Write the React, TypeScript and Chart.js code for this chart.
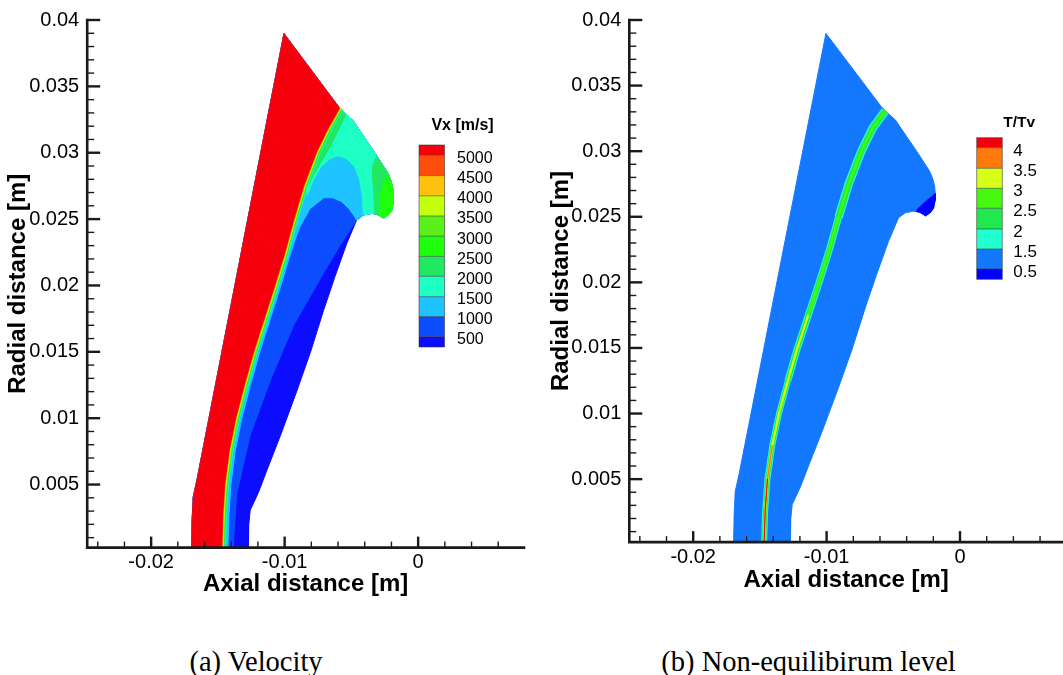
import React, { useEffect, useRef } from 'react';
import { Chart, registerables } from 'chart.js';

Chart.register(...registerables);

type Pt = [number, number];

// ---------------- axes ----------------
const xMin = -0.02479;
const xMaxA = 0.00793;
const xMaxB = 0.00772;
const yMinA = 0.00025;
const yMinB = 0.0002;
const yMax = 0.04;
const xMajorTicks = [-0.02, -0.01, 0];
const xTickLabels = ['-0.02', '-0.01', '0'];
const xMinorTicks = [-0.024, -0.022, -0.018, -0.016, -0.014, -0.012, -0.008, -0.006, -0.004, -0.002, 0.002, 0.004, 0.006];
const yMajorTicks = [0.005, 0.01, 0.015, 0.02, 0.025, 0.03, 0.035, 0.04];
const yTickLabels = ['0.005', '0.01', '0.015', '0.02', '0.025', '0.03', '0.035', '0.04'];
const yMinorTicks = [0.001, 0.002, 0.003, 0.004, 0.006, 0.007, 0.008, 0.009, 0.011, 0.012, 0.013, 0.014, 0.016, 0.017, 0.018, 0.019, 0.021, 0.022, 0.023, 0.024, 0.026, 0.027, 0.028, 0.029, 0.031, 0.032, 0.033, 0.034, 0.036, 0.037, 0.038, 0.039];

// ---------------- domain boundary (x, y in metres) ----------------
const inflowEdge: Pt[] = [[-0.01697, 0.00025], [-0.01693, 0.00232], [-0.01685, 0.00405], [-0.01657, 0.00533], [-0.01005, 0.03898]];
const upperEdge: Pt[] = [[-0.01005, 0.03898], [-0.0059, 0.03339], [-0.00541, 0.03289], [-0.00486, 0.0324], [-0.00436, 0.03165], [-0.00386, 0.0309], [-0.00335, 0.03015], [-0.0031, 0.02977], [-0.00286, 0.02939], [-0.00252, 0.02886], [-0.00224, 0.02839], [-0.00204, 0.02789], [-0.00191, 0.02738], [-0.00185, 0.02676], [-0.00187, 0.02623], [-0.00199, 0.02563], [-0.00226, 0.02529], [-0.00258, 0.02507]];
const lipEdge: Pt[] = [[-0.00258, 0.02507], [-0.00286, 0.02524], [-0.00297, 0.02531], [-0.00327, 0.02539], [-0.00347, 0.02543], [-0.0041, 0.02531], [-0.00461, 0.02492]];
const outflowEdge: Pt[] = [[-0.00461, 0.02492], [-0.00536, 0.02313], [-0.00625, 0.02061], [-0.00709, 0.01811], [-0.00807, 0.01496], [-0.00915, 0.01187], [-0.01031, 0.00871], [-0.01133, 0.00608], [-0.01196, 0.00441], [-0.01258, 0.00307], [-0.01269, 0.00195], [-0.01271, 0.00025]];

// ---------------- velocity contours ----------------
const shockFront: Pt[] = [[-0.01473, 0.00025], [-0.01466, 0.0027], [-0.01451, 0.00503], [-0.01417, 0.00759], [-0.01369, 0.01], [-0.01305, 0.01248], [-0.01234, 0.01503], [-0.01155, 0.01751], [-0.01076, 0.02], [-0.01001, 0.02247], [-0.00934, 0.02495], [-0.00859, 0.02751], [-0.00766, 0.02999], [-0.00683, 0.03172], [-0.0059, 0.03339]];
const contour1000: Pt[] = [[-0.01385, 0.00025], [-0.0136, 0.00426], [-0.01258, 0.00871], [-0.01106, 0.01288], [-0.0093, 0.01705], [-0.00727, 0.02061], [-0.00586, 0.023], [-0.00461, 0.02492]];
const contour1500: Pt[] = [[-0.01425, 0.00025], [-0.01417, 0.0027], [-0.01402, 0.00503], [-0.01369, 0.00759], [-0.0132, 0.01], [-0.01256, 0.01248], [-0.01185, 0.01503], [-0.01106, 0.01751], [-0.01028, 0.02], [-0.0096, 0.02225], [-0.00893, 0.02428], [-0.0081, 0.02578], [-0.00706, 0.02661], [-0.00639, 0.02661], [-0.00571, 0.02631], [-0.00519, 0.02578], [-0.00481, 0.02526], [-0.00461, 0.02492]];
const contour2000: Pt[] = [[-0.00833, 0.02676], [-0.00788, 0.02789], [-0.00728, 0.02894], [-0.00661, 0.02954], [-0.00601, 0.02977], [-0.00534, 0.02954], [-0.00474, 0.02894], [-0.00436, 0.02789], [-0.00417, 0.02661], [-0.0041, 0.02531]];
const contour2500Tip: Pt[] = [[-0.0031, 0.02977], [-0.00339, 0.02902], [-0.00339, 0.02789], [-0.00331, 0.02676], [-0.00327, 0.02539]];
const contour3000Tip: Pt[] = [[-0.00224, 0.02839], [-0.00264, 0.02759], [-0.00286, 0.02661], [-0.00286, 0.02524]];
const contour2500Wedge: Pt[] = [[-0.00541, 0.03289], [-0.00601, 0.03165], [-0.00676, 0.03014], [-0.00758, 0.02879], [-0.00818, 0.02766]];

// ---------------- T/Tv contours ----------------
const bandCentre: Pt[] = [[-0.01468, 0.00025], [-0.0146, 0.0027], [-0.01443, 0.00503], [-0.01407, 0.00759], [-0.01357, 0.01], [-0.01291, 0.01248], [-0.01218, 0.01503], [-0.01137, 0.01751], [-0.01056, 0.02], [-0.0098, 0.02247], [-0.00911, 0.02495], [-0.00834, 0.02751], [-0.0074, 0.02999], [-0.00657, 0.03172], [-0.0056, 0.03308]];
const contour05: Pt[] = [[-0.00327, 0.02539], [-0.00318, 0.0256], [-0.0025, 0.02623], [-0.00185, 0.02676]];

// ---------------- colour bars ----------------
const vxLevels = ['5000', '4500', '4000', '3500', '3000', '2500', '2000', '1500', '1000', '500'];
const vxColors = ['#f6000d', '#ff4e0c', '#ffc10c', '#c4ff0c', '#5af01a', '#1eff0c', '#20e860', '#1effc4', '#1ec4ff', '#0c4eff', '#0c0cff'];
const ttvLevels = ['4', '3.5', '3', '2.5', '2', '1.5', '0.5'];
const ttvColors = ['#f6000d', '#ff7a0d', '#d8ff18', '#44f810', '#22e850', '#22ffd0', '#1478ff', '#0000ff'];

const FONT = "'Liberation Sans', Arial, Helvetica, sans-serif";

const rev = <T,>(a: T[]): T[] => a.slice().reverse();
const toXY = (a: Pt[]) => a.map(([x, y]) => ({ x, y }));

// polygons built from the contour lines and boundary edges
const domain = [...inflowEdge, ...upperEdge.slice(1), ...lipEdge.slice(1), ...outflowEdge.slice(1)];
const backTail = [...rev(lipEdge).slice(1), ...rev(upperEdge).slice(1), ...rev(inflowEdge).slice(1)];
const region1000 = [...contour1000, ...backTail];
const region1500 = [...contour1500, ...backTail];
const region2000 = [...contour2000, ...rev(lipEdge.slice(0, 5)), ...rev(upperEdge).slice(1)];
const region2500Tip = [...contour2500Tip, ...rev(lipEdge.slice(0, 3)), ...rev(upperEdge.slice(8, 17))];
const region3000Tip = [...contour3000Tip, lipEdge[0], ...rev(upperEdge.slice(11, 17))];
const region2500Wedge = [...contour2500Wedge, ...shockFront.slice(11)];
const region5000 = [...inflowEdge, ...rev(shockFront)];
const regionLow = [...contour05, ...upperEdge.slice(14), ...lipEdge.slice(1, 3)];

type Layer = { kind: 'fill' | 'line'; pts: Pt[]; color: string; width?: number };

const leftLayers: Layer[] = [
  { kind: 'fill', pts: domain, color: vxColors[10] },
  { kind: 'fill', pts: region1000, color: vxColors[9] },
  { kind: 'fill', pts: region1500, color: vxColors[8] },
  { kind: 'fill', pts: region2000, color: vxColors[7] },
  { kind: 'fill', pts: region2500Tip, color: vxColors[6] },
  { kind: 'fill', pts: region3000Tip, color: vxColors[5] },
  { kind: 'fill', pts: region2500Wedge, color: vxColors[6] },
  { kind: 'line', pts: shockFront, color: vxColors[7], width: 9 },
  { kind: 'line', pts: shockFront, color: vxColors[6], width: 7.5 },
  { kind: 'line', pts: shockFront, color: vxColors[5], width: 6 },
  { kind: 'line', pts: shockFront, color: vxColors[3], width: 4.5 },
  { kind: 'line', pts: shockFront, color: vxColors[2], width: 3 },
  { kind: 'line', pts: shockFront, color: vxColors[1], width: 2 },
  { kind: 'fill', pts: region5000, color: vxColors[0] },
];

const bandLower = bandCentre.slice(0, 6);
const bandMiddle = bandCentre.slice(5, 11);
const bandUpper = bandCentre.slice(10);

const rightLayers: Layer[] = [
  { kind: 'fill', pts: domain, color: ttvColors[6] },
  { kind: 'fill', pts: regionLow, color: ttvColors[7] },
  { kind: 'line', pts: bandLower, color: ttvColors[5], width: 6 },
  { kind: 'line', pts: bandMiddle, color: ttvColors[5], width: 7 },
  { kind: 'line', pts: bandUpper, color: ttvColors[5], width: 8.5 },
  { kind: 'line', pts: bandLower, color: ttvColors[4], width: 4.2 },
  { kind: 'line', pts: bandMiddle, color: ttvColors[4], width: 5 },
  { kind: 'line', pts: bandUpper, color: ttvColors[4], width: 6 },
  { kind: 'line', pts: bandCentre.slice(7), color: ttvColors[3], width: 2.5 },
  { kind: 'line', pts: bandCentre.slice(0, 8), color: ttvColors[2], width: 2.2 },
  { kind: 'line', pts: bandCentre.slice(0, 4), color: ttvColors[1], width: 1.4 },
  { kind: 'line', pts: bandCentre.slice(0, 3), color: ttvColors[0], width: 1 },
];

function datasetsFrom(layers: Layer[]) {
  const n = layers.length;
  return layers.map((l, i) => {
    const base: any = {
      data: toXY(l.pts),
      showLine: true,
      pointRadius: 0,
      pointHoverRadius: 0,
      tension: 0,
      order: n - i,
      borderJoinStyle: 'round',
      borderCapStyle: 'butt',
    };
    if (l.kind === 'fill') {
      return { ...base, fill: 'shape', backgroundColor: l.color, borderColor: l.color, borderWidth: 1 };
    }
    return { ...base, fill: false, borderColor: l.color, borderWidth: l.width };
  });
}

const framePlugin = {
  id: 'frame',
  afterDraw(chart: any) {
    const { ctx, chartArea: a, scales } = chart;
    const x = scales.x;
    const y = scales.y;
    ctx.save();
    ctx.strokeStyle = '#1a1a1a';
    const seg = (x1: number, y1: number, x2: number, y2: number) => {
      ctx.beginPath();
      ctx.moveTo(x1, y1);
      ctx.lineTo(x2, y2);
      ctx.stroke();
    };
    ctx.lineWidth = 1.4;
    for (const v of yMinorTicks) { const p = y.getPixelForValue(v); seg(a.left, p, a.left + 7, p); }
    for (const v of xMinorTicks) { const p = x.getPixelForValue(v); seg(p, a.bottom, p, a.bottom - 6); }
    ctx.lineWidth = 2.4;
    for (const v of yMajorTicks) { const p = y.getPixelForValue(v); seg(a.left, p, a.left + 13, p); }
    for (const v of xMajorTicks) { const p = x.getPixelForValue(v); seg(p, a.bottom, p, a.bottom - 11); }
    ctx.lineWidth = 2.6;
    ctx.lineCap = 'square';
    ctx.beginPath();
    ctx.moveTo(a.left, a.top);
    ctx.lineTo(a.left, a.bottom);
    ctx.lineTo(a.right, a.bottom);
    ctx.stroke();
    ctx.restore();
  },
};

type Bar = {
  colors: string[]; labels: string[]; title: string; x: number; w: number; edges: number[];
  labelX: number; labelDy: number; labelSize: number; titleX: number; titleY: number; titleSize: number;
};

function colorbarPlugin(b: Bar) {
  return {
    id: 'colorbar',
    afterDraw(chart: any) {
      const ctx = chart.ctx;
      ctx.save();
      b.colors.forEach((c, i) => {
        ctx.fillStyle = c;
        ctx.fillRect(b.x, b.edges[i], b.w, b.edges[i + 1] - b.edges[i]);
      });
      ctx.strokeStyle = 'rgba(50,50,50,0.55)';
      ctx.lineWidth = 1;
      for (let i = 1; i < b.edges.length - 1; i++) {
        ctx.beginPath();
        ctx.moveTo(b.x, b.edges[i]);
        ctx.lineTo(b.x + b.w, b.edges[i]);
        ctx.stroke();
      }
      ctx.strokeRect(b.x, b.edges[0], b.w, b.edges[b.edges.length - 1] - b.edges[0]);
      ctx.fillStyle = '#000';
      ctx.textBaseline = 'middle';
      ctx.textAlign = 'left';
      ctx.font = `${b.labelSize}px ${FONT}`;
      b.labels.forEach((t, i) => ctx.fillText(t, b.labelX, b.edges[i + 1] + b.labelDy));
      ctx.textAlign = 'center';
      ctx.font = `bold ${b.titleSize}px ${FONT}`;
      ctx.fillText(b.title, b.titleX, b.titleY);
      ctx.restore();
    },
  };
}

type Frame = { xMax: number; yMin: number; yWidth: number; xHeight: number; padding: any; yTitlePad: number };

function buildChart(canvas: HTMLCanvasElement, layers: Layer[], f: Frame, bar: Bar) {
  return new Chart(canvas, {
    type: 'scatter',
    data: { datasets: datasetsFrom(layers) as any },
    plugins: [framePlugin, colorbarPlugin(bar)],
    options: {
      responsive: false,
      animation: false,
      devicePixelRatio: 1,
      events: [],
      layout: { padding: f.padding },
      plugins: { legend: { display: false }, tooltip: { enabled: false } },
      scales: {
        x: {
          type: 'linear',
          position: 'bottom',
          min: xMin,
          max: f.xMax,
          afterBuildTicks: (s: any) => { s.ticks = xMajorTicks.map((value) => ({ value })); },
          afterFit: (s: any) => { s.height = f.xHeight; },
          ticks: {
            autoSkip: false, maxRotation: 0, minRotation: 0, padding: 3, color: '#000',
            font: { family: FONT, size: 20 },
            callback: (_v: any, i: number) => xTickLabels[i],
          },
          grid: { display: false, drawTicks: false },
          border: { display: false },
          title: {
            display: true, text: 'Axial distance [m]', color: '#000',
            font: { family: FONT, size: 24, weight: 'bold' }, padding: { top: 0, bottom: 0 },
          },
        },
        y: {
          type: 'linear',
          position: 'left',
          min: f.yMin,
          max: yMax,
          afterBuildTicks: (s: any) => { s.ticks = yMajorTicks.map((value) => ({ value })); },
          afterFit: (s: any) => { s.width = f.yWidth; },
          ticks: {
            autoSkip: false, padding: 8, color: '#000',
            font: { family: FONT, size: 20 },
            callback: (_v: any, i: number) => yTickLabels[i],
          },
          grid: { display: false, drawTicks: false },
          border: { display: false },
          title: {
            display: true, text: 'Radial distance [m]', color: '#000',
            font: { family: FONT, size: 24, weight: 'bold' }, padding: { top: f.yTitlePad, bottom: 0 },
          },
        },
      },
    } as any,
  });
}

function Panel(props: { left: number; width: number; height: number; layers: Layer[]; frame: Frame; bar: Bar }) {
  const ref = useRef<HTMLCanvasElement>(null);
  useEffect(() => {
    const chart = buildChart(ref.current as HTMLCanvasElement, props.layers, props.frame, props.bar);
    return () => chart.destroy();
  }, []);
  return (
    <canvas
      ref={ref}
      width={props.width}
      height={props.height}
      style={{ position: 'absolute', left: props.left, top: 0, width: props.width, height: props.height }}
    />
  );
}

const leftBar: Bar = {
  colors: vxColors, labels: vxLevels, title: 'Vx [m/s]', x: 419, w: 25.5,
  edges: [145, 155.3, 175.6, 195.8, 216, 236.2, 256.4, 276.3, 296.7, 316.6, 336.6, 347],
  labelX: 457, labelDy: 3, labelSize: 16, titleX: 462.5, titleY: 126, titleSize: 16,
};
const rightBar: Bar = {
  colors: ttvColors, labels: ttvLevels, title: 'T/Tv', x: 434.7, w: 25.6,
  edges: [137.7, 147.7, 168.3, 188.3, 208.3, 229, 249, 269, 279.3],
  labelX: 471.3, labelDy: 3.5, labelSize: 17, titleX: 477.2, titleY: 122.5, titleSize: 15.5,
};

const captionStyle = (cx: number): React.CSSProperties => ({
  position: 'absolute', left: cx - 250, width: 500, top: 645, textAlign: 'center',
  fontFamily: "'Liberation Serif', 'Times New Roman', serif", fontSize: 28.5, lineHeight: '34px', color: '#000',
});

export default function App() {
  return (
    <div style={{ position: 'absolute', left: 0, top: 0, width: 1063, height: 675, background: '#fff', overflow: 'hidden' }}>
      <Panel
        left={0} width={530} height={620} layers={leftLayers} bar={leftBar}
        frame={{ xMax: xMaxA, yMin: yMinA, yWidth: 87.2, xHeight: 50.8, padding: { left: 0, top: 19, right: 6, bottom: 21.6 }, yTitlePad: 4.2 }}
      />
      <Panel
        left={542} width={521} height={620} layers={rightLayers} bar={rightBar}
        frame={{ xMax: xMaxB, yMin: yMinB, yWidth: 87.3, xHeight: 52.6, padding: { left: 0, top: 13.8, right: 0, bottom: 25.3 }, yTitlePad: 5.4 }}
      />
      <div style={captionStyle(256)}>(a) Velocity</div>
      <div style={captionStyle(808.5)}>(b) Non-equilibirum level</div>
    </div>
  );
}
